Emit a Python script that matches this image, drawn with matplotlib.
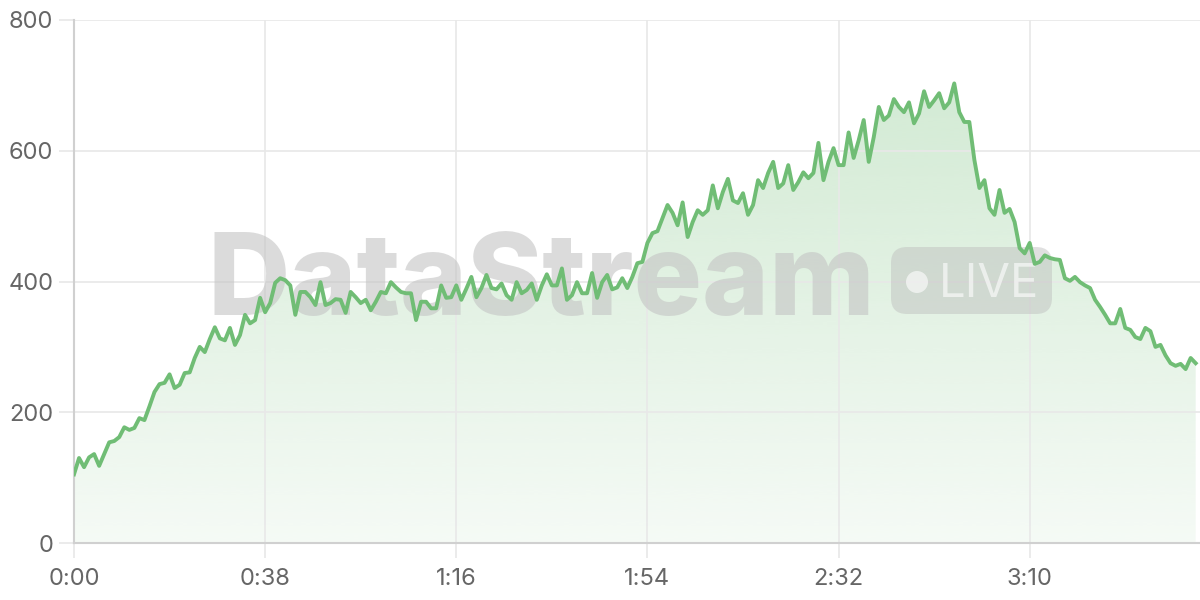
import numpy as np
import matplotlib
matplotlib.use("Agg")
from matplotlib import pyplot as plt
from matplotlib.patches import FancyBboxPatch, Circle, Polygon
from matplotlib.transforms import Affine2D

# one sample per second, 0:00 .. 3:43
viewers = [
    105, 130, 116, 131, 136, 118, 136, 154, 156, 162, 177, 173, 176, 191, 188, 209,
    231, 243, 245, 258, 237, 242, 260, 261, 283, 300, 292, 312, 330, 313, 310, 329,
    303, 318, 349, 336, 341, 375, 353, 367, 398, 405,
    402, 394, 349, 384, 384, 376, 364, 399, 364, 367, 373, 372, 352, 384, 376, 367,
    372, 356, 369, 384, 382, 399, 391, 384, 382, 382, 341, 369, 369, 359, 359, 394,
    375, 376, 394, 372, 389, 407,
    376, 390, 410, 390, 388, 397, 379, 372, 399, 382, 387, 397, 372, 394, 411, 394,
    394, 420, 372, 379, 399, 382, 382, 413, 375, 399, 410, 388, 391, 405, 390, 407,
    428, 430,
    459, 474, 477, 497, 517, 505, 486, 521, 468, 491, 509, 502, 509, 547, 512, 537,
    557, 524, 520, 535, 502, 517, 555, 543, 566, 583, 543, 550, 578, 540, 552, 567,
    558, 566, 612, 555, 583,
    604, 578, 578, 628, 589, 616, 647, 583, 621, 667, 647, 654, 679, 667, 659, 674,
    642, 657, 691, 667, 677, 688, 665, 674, 703, 659, 644, 644, 586, 543, 555, 512,
    502, 540, 505, 511, 491,
    451, 443, 459, 427, 430, 440, 436, 434, 433, 405, 401, 407, 399, 394, 390, 372,
    361, 349, 336, 336, 358, 329, 326, 315, 312, 329, 324, 300, 303, 287, 275, 271,
    274, 266, 283, 275,
]
seconds = np.arange(len(viewers))
tick_seconds = [0, 38, 76, 114, 152, 190]
tick_labels = ["0:00", "0:38", "1:16", "1:54", "2:32", "3:10"]
y_ticks = [0, 200, 400, 600, 800]

LINE = "#70bd75"
GRID = "#e8e8e8"
TEXT = "#666666"

plt.rcParams['font.family'] = ['Inter', 'DejaVu Sans']

fig = plt.figure(figsize=(12, 6), dpi=100)
ax = fig.add_axes([74 / 1200, 57 / 600, 1126 / 1200, 523 / 600])

xmax = 1126 / 5.03
ax.set_xlim(0, xmax)
ax.set_ylim(0, 800)

# gradient fill under the curve (alpha only, same green)
grad = np.linspace(0.07, 0.31, 256).reshape(-1, 1)
g = matplotlib.colors.to_rgb(LINE)
cmap = matplotlib.colors.LinearSegmentedColormap.from_list(
    "g", [(g[0], g[1], g[2], 0), (g[0], g[1], g[2], 1)])
img = ax.imshow(grad, cmap=cmap, vmin=0, vmax=1, aspect="auto", origin="lower",
                extent=[0, seconds[-1], 0, max(viewers)], zorder=1,
                interpolation="bilinear")
verts = [(0, 0)] + list(zip(seconds, viewers)) + [(seconds[-1], 0)]
poly = Polygon(verts, closed=True, facecolor="none", edgecolor="none")
ax.add_patch(poly)
img.set_clip_path(poly)

ax.plot(seconds, viewers, color=LINE, lw=2.8, zorder=4)

# watermark, placed in pixel coords (y measured from top of image)
px = Affine2D().scale(1, -1).translate(0, 600)
ax.text(208, 315, "DataStream", transform=px, fontsize=82,
        fontweight="heavy", color="#c4c4c4", alpha=0.6, zorder=3,
        va="baseline", ha="left")
box = FancyBboxPatch((891, 247), 161, 67,
                     boxstyle="round,pad=0,rounding_size=16",
                     transform=px, facecolor="#bcbcbc", alpha=0.45,
                     edgecolor="none", zorder=3)
ax.add_patch(box)
ax.add_patch(Circle((917, 282), 11, transform=px,
                    facecolor="white", alpha=0.6, zorder=3))
ax.text(939, 297, "LIVE", transform=px, fontsize=34,
        color="white", alpha=0.6, zorder=3, va="baseline", ha="left")

ax.set_xticks(tick_seconds)
ax.set_xticklabels(tick_labels)
ax.set_yticks(y_ticks)
ax.grid(True, color=GRID, lw=1.2, zorder=0)
ax.tick_params(axis="both", length=11, width=1.2, color=GRID, labelcolor=TEXT,
               labelsize=17)
ax.tick_params(axis="x", pad=7)
ax.tick_params(axis="y", pad=4)
for side in ["top", "right"]:
    ax.spines[side].set_visible(False)
for side in ["left", "bottom"]:
    ax.spines[side].set_color("#d0d0d0")
    ax.spines[side].set_linewidth(1.5)

fig.savefig("out.png", dpi=100)
